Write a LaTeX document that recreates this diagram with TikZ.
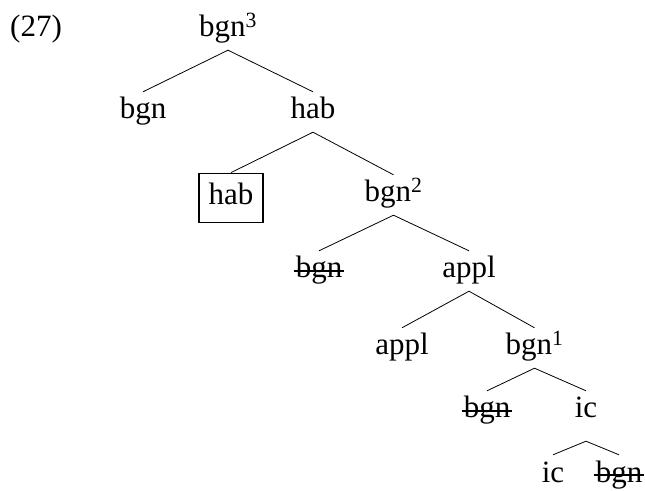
\documentclass[tikz,border=0pt]{standalone}
\usepackage{fontspec}
\setmainfont{Liberation Serif}
\newcommand{\strk}[1]{\sbox0{#1}\rlap{\hskip-2pt\rule[6.2pt]{\dimexpr\wd0+4pt\relax}{1.6pt}}\usebox0}
\begin{document}
\begin{tikzpicture}[x=1pt,y=1pt,
  tn/.style={font=\fontsize{31}{37}\selectfont, inner xsep=0pt, inner ysep=6pt,
             text height=21pt, text depth=7pt, anchor=base},
  boxed/.style={tn, draw, line width=1.8pt, inner xsep=9.5pt, inner ysep=10.5pt},
  edge/.style={line width=0.8pt}]
\useasboundingbox (0,0) rectangle (645,490);
\node[tn, anchor=base west] (ex) at (10,453) {(27)};
\node[tn] (r) at (228,453) {bgn\textsuperscript{3}};
\node[tn] (b1) at (143,371) {bgn};
\node[tn] (h1) at (313,371) {hab};
\node[boxed] (h2) at (231,285) {hab};
\node[tn] (b2) at (393.5,288) {bgn\textsuperscript{2}};
\node[tn] (s1) at (319,212) {\strk{bgn}};
\node[tn] (a1) at (469,212) {appl};
\node[tn] (a2) at (402,135) {appl};
\node[tn] (b3) at (534.5,135) {bgn\textsuperscript{1}};
\node[tn] (s2) at (487,72) {\strk{bgn}};
\node[tn, text depth=17pt] (i1) at (586,72) {ic};
\node[tn] (i2) at (553,8) {ic};
\node[tn] (s3) at (619,8) {\strk{bgn}};
\draw[edge] (b1.north) -- (r.south) -- (h1.north);
\draw[edge] (h2.north) -- (h1.south) -- (b2.north);
\draw[edge] (s1.north) -- (b2.south) -- (a1.north);
\draw[edge] (a2.north) -- (a1.south) -- (b3.north);
\draw[edge] (s2.north) -- (b3.south) -- (i1.north);
\draw[edge] (i2.north) -- (i1.south) -- (s3.north);
\end{tikzpicture}
\end{document}
